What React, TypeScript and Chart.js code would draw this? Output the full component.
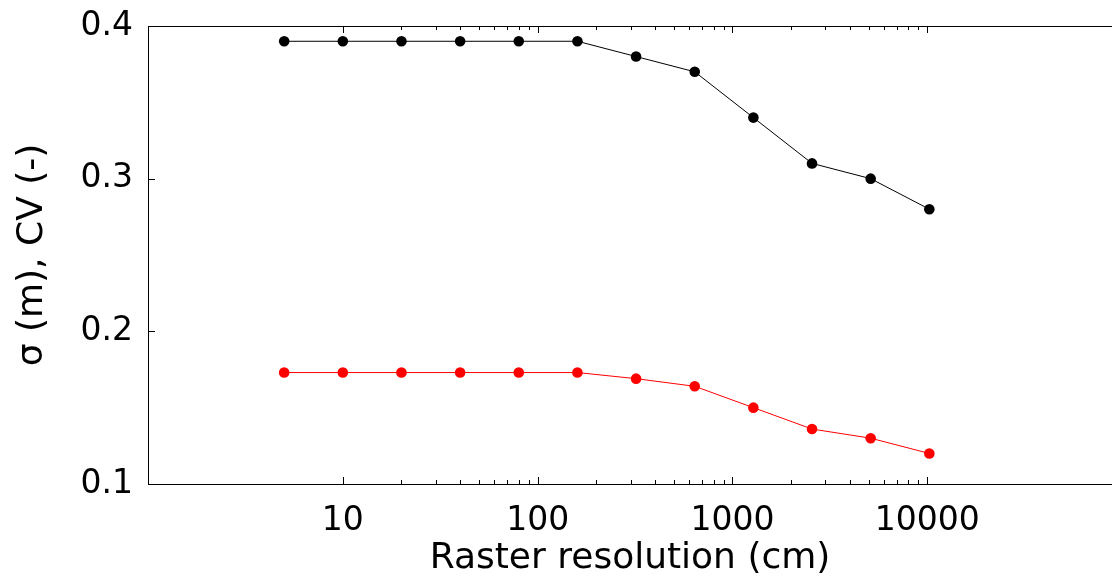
import React, { useEffect, useRef } from "react";
import { Chart, registerables } from "chart.js";

Chart.register(...registerables);

const resolutionCm = [5, 10, 20, 40, 80, 160, 320, 640, 1280, 2560, 5120, 10240];
const seriesBlack = [0.39, 0.39, 0.39, 0.39, 0.39, 0.39, 0.38, 0.37, 0.34, 0.31, 0.3, 0.28];
const seriesRed = [0.173, 0.173, 0.173, 0.173, 0.173, 0.173, 0.169, 0.164, 0.15, 0.136, 0.13, 0.12];
const xMajorTicks = [10, 100, 1000, 10000];
const xMinorTicks = [
  20, 30, 40, 50, 60, 70, 80, 90,
  200, 300, 400, 500, 600, 700, 800, 900,
  2000, 3000, 4000, 5000, 6000, 7000, 8000, 9000,
];
const yTicks = [0.1, 0.2, 0.3, 0.4];
const xTitle = "Raster resolution (cm)";
const yTitle = "σ (m), CV (-)";

const FONT = "'DejaVu Sans', sans-serif";

const framePlugin = {
  id: "frameTicks",
  afterDraw(chart: any) {
    const { ctx, chartArea } = chart;
    const xs = chart.scales.x;
    const ys = chart.scales.y;
    const { left, right, top, bottom } = chartArea;
    ctx.save();
    ctx.strokeStyle = "#000";
    ctx.lineWidth = 1;
    ctx.beginPath();
    ctx.moveTo(left + 0.5, top);
    ctx.lineTo(left + 0.5, bottom + 0.5);
    ctx.lineTo(right, bottom + 0.5);
    ctx.moveTo(left, top + 0.5);
    ctx.lineTo(right, top + 0.5);
    xMajorTicks.forEach((v) => {
      const px = Math.round(xs.getPixelForValue(v)) + 0.5;
      ctx.moveTo(px, bottom);
      ctx.lineTo(px, bottom - 7);
      ctx.moveTo(px, top);
      ctx.lineTo(px, top + 7);
    });
    xMinorTicks.forEach((v) => {
      const px = Math.round(xs.getPixelForValue(v)) + 0.5;
      ctx.moveTo(px, bottom);
      ctx.lineTo(px, bottom - 4);
      ctx.moveTo(px, top);
      ctx.lineTo(px, top + 4);
    });
    yTicks.forEach((v) => {
      const py = Math.round(ys.getPixelForValue(v)) + 0.5;
      ctx.moveTo(left, py);
      ctx.lineTo(left + 7, py);
    });
    ctx.stroke();
    ctx.restore();
  },
};

export default function App() {
  const canvasRef = useRef<HTMLCanvasElement | null>(null);

  useEffect(() => {
    document.body.style.margin = "0";
    const canvas = canvasRef.current;
    if (!canvas) return;
    const toPoints = (vals: number[]) => resolutionCm.map((x, i) => ({ x, y: vals[i] }));
    const chart = new Chart(canvas, {
      type: "scatter",
      data: {
        datasets: [
          {
            data: toPoints(seriesBlack),
            borderColor: "#000000",
            backgroundColor: "#000000",
            showLine: true,
            borderWidth: 1,
            pointRadius: 5.3,
            pointBorderWidth: 0,
          },
          {
            data: toPoints(seriesRed),
            borderColor: "#ff0000",
            backgroundColor: "#ff0000",
            showLine: true,
            borderWidth: 1,
            pointRadius: 5.3,
            pointBorderWidth: 0,
          },
        ],
      },
      options: {
        responsive: false,
        devicePixelRatio: 1,
        animation: false,
        layout: { autoPadding: false, padding: { top: 26, right: 0, left: 0, bottom: 0 } },
        plugins: {
          legend: { display: false },
          tooltip: { enabled: false },
        },
        scales: {
          x: {
            type: "logarithmic",
            position: "bottom",
            min: 1,
            max: 88700,
            grid: { display: false },
            border: { display: false },
            afterBuildTicks: (scale: any) => {
              scale.ticks = xMajorTicks.map((v) => ({ value: v }));
            },
            afterFit: (scale: any) => {
              scale.height = 96;
              scale.paddingLeft = 0;
              scale.paddingRight = 0;
            },
            ticks: {
              autoSkip: false,
              maxRotation: 0,
              minRotation: 0,
              padding: 10,
              color: "#000",
              font: { family: FONT, size: 33 },
              callback: (v: any) => String(v),
            },
            title: {
              display: true,
              text: xTitle,
              color: "#000",
              font: { family: FONT, size: 36 },
              padding: { top: 6, bottom: 0 },
            },
          },
          y: {
            type: "linear",
            min: 0.1,
            max: 0.4,
            grid: { display: false },
            border: { display: false },
            afterBuildTicks: (scale: any) => {
              scale.ticks = yTicks.map((v) => ({ value: v }));
            },
            afterFit: (scale: any) => {
              scale.width = 148;
              scale.paddingTop = 0;
              scale.paddingBottom = 0;
            },
            ticks: {
              padding: 7,
              color: "#000",
              font: { family: FONT, size: 33 },
              callback: (v: any) => Number(v).toFixed(1),
            },
            title: {
              display: true,
              text: yTitle,
              color: "#000",
              font: { family: FONT, size: 36 },
              padding: { top: 11, bottom: 0 },
            },
          },
        },
      },
      plugins: [framePlugin],
    } as any);
    return () => chart.destroy();
  }, []);

  return (
    <div style={{ width: 1112, height: 580, background: "#fff" }}>
      <canvas ref={canvasRef} width={1112} height={580} style={{ display: "block" }} />
    </div>
  );
}
